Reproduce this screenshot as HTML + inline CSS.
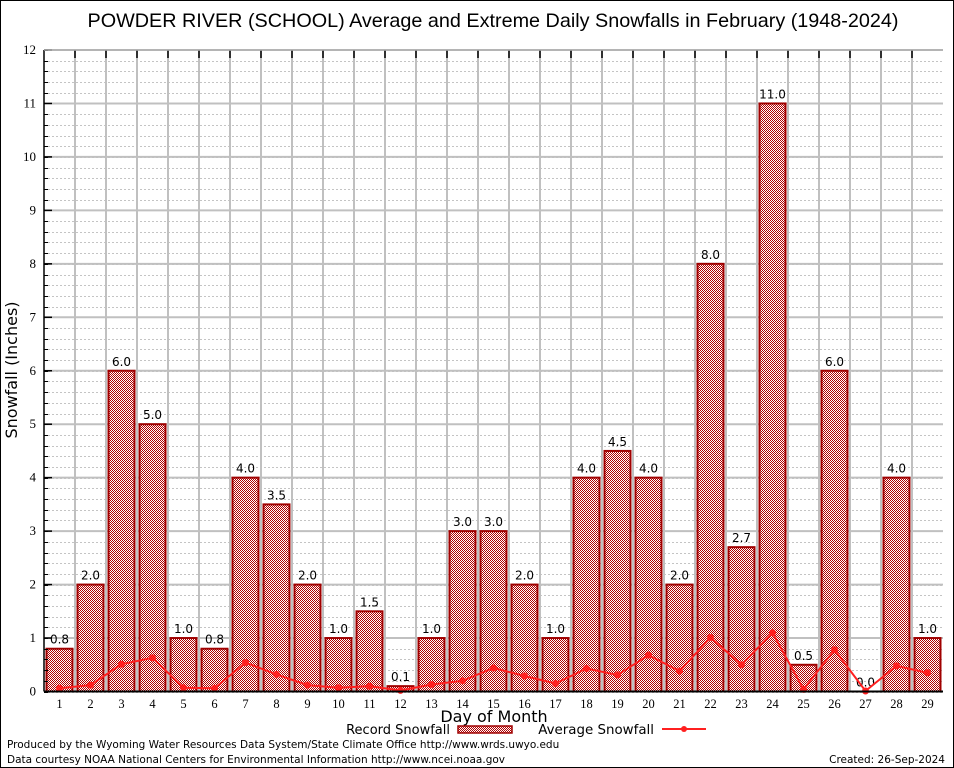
<!DOCTYPE html>
<html><head><meta charset="utf-8">
<style>
html,body{margin:0;padding:0;background:#fff;}
svg{display:block;font-family:"DejaVu Sans","Liberation Sans",sans-serif;}
</style></head>
<body>
<svg id="chart" width="954" height="768" viewBox="0 0 954 768" xmlns="http://www.w3.org/2000/svg">
<defs>
<pattern id="chk" width="2" height="2" patternUnits="userSpaceOnUse">
<rect width="2" height="2" fill="#fff"/>
<rect width="1" height="1" fill="#b00000"/>
<rect x="1" y="1" width="1" height="1" fill="#b00000"/>
</pattern>
</defs>
<rect x="0.5" y="0.5" width="953" height="767" fill="#fff" stroke="#000"/>
<text x="493" y="27" font-size="19.8" text-anchor="middle" font-family="Liberation Sans, sans-serif">POWDER RIVER (SCHOOL) Average and Extreme Daily Snowfalls in February (1948-2024)</text>
<g id="grid"></g>
<g id="bars"></g>
<g id="line"></g>
<g id="axes"></g>
<text x="17" y="370" font-size="16" text-anchor="middle" transform="rotate(-90 17 370)">Snowfall (Inches)</text>
<text x="494" y="722" font-size="16" text-anchor="middle">Day of Month</text>
<g>
<text x="450" y="734" font-size="13" text-anchor="end">Record Snowfall</text>
<rect x="458" y="726" width="54" height="7" fill="url(#chk)" stroke="#a00000" stroke-width="1.5"/>
<text x="654" y="734" font-size="13.4" text-anchor="end">Average Snowfall</text>
<line x1="662" y1="729" x2="706" y2="729" stroke="#ff2020" stroke-width="2"/>
<circle cx="684" cy="729" r="3" fill="#ff2020"/>
</g>
<text x="7" y="748" font-size="10.5">Produced by the Wyoming Water Resources Data System/State Climate Office http://www.wrds.uwyo.edu</text>
<text x="7" y="763" font-size="10.5">Data courtesy NOAA National Centers for Environmental Information http://www.ncei.noaa.gov</text>
<text x="945" y="763" font-size="10.5" text-anchor="end">Created: 26-Sep-2024</text>
</svg>
<script>
const days = [1,2,3,4,5,6,7,8,9,10,11,12,13,14,15,16,17,18,19,20,21,22,23,24,25,26,27,28,29];
const recordSnow = [0.8,2.0,6.0,5.0,1.0,0.8,4.0,3.5,2.0,1.0,1.5,0.1,1.0,3.0,3.0,2.0,1.0,4.0,4.5,4.0,2.0,8.0,2.7,11.0,0.5,6.0,0.0,4.0,1.0];
const avgSnow = [0.06,0.12,0.51,0.63,0.07,0.06,0.54,0.32,0.12,0.07,0.10,0.02,0.13,0.20,0.44,0.29,0.15,0.43,0.31,0.68,0.38,1.01,0.50,1.10,0.04,0.78,0.01,0.48,0.35];
const yTicks = [0,1,2,3,4,5,6,7,8,9,10,11,12];

const NS="http://www.w3.org/2000/svg";
const L=44,R=943,T=50,B=691.5;
const yMax=12;
const xs=d=>L+(d-0.5)*(R-L)/days.length;
const ys=v=>B-v*(B-T)/yMax;
function mk(tag,parent,attrs){const e=document.createElementNS(NS,tag);for(const k in attrs)e.setAttribute(k,attrs[k]);parent.appendChild(e);return e;}
const grid=document.getElementById('grid'),bars=document.getElementById('bars'),line=document.getElementById('line'),axes=document.getElementById('axes');

for(let v=0;v<yMax;v+=0.2){
  const y=Math.round(ys(v))+0.5;
  const g=mk('line',grid,{x1:L,x2:R,y1:y,y2:y,stroke:'#c4c4c4','stroke-width':1,'stroke-dasharray':'2,2'});
  
  
  const t=mk('line',axes,{x1:L,x2:L+4,y1:y,y2:y,stroke:'#000'});
  
  
}
yTicks.forEach(v=>{
  const y=ys(v);
  const g=mk('line',grid,{x1:L,x2:R,y1:y,y2:y,stroke:'#c0c0c0','stroke-width':2});
  
  
  const t=mk('line',axes,{x1:L,x2:L+8,y1:y,y2:y,stroke:'#000','stroke-width':1.5});
  
  
  const tx=mk('text',axes,{x:36,y:y+4,'font-size':13,'text-anchor':'end','font-family':'Liberation Serif, serif'});
  tx.textContent=v;
  
  
});
for(let i=1;i<days.length;i++){
  const x=Math.round(xs(i+0.5));
  const g=mk('line',grid,{x1:x,x2:x,y1:T,y2:B,stroke:'#c0c0c0','stroke-width':2});
  
  
  const t=mk('line',axes,{x1:x,x2:x,y1:T,y2:T+8,stroke:'#000','stroke-width':1.5});
  
  
}
const bw=26;
days.forEach((d,i)=>{
  const v=recordSnow[i];
  const x=xs(d)-bw/2,y=ys(v);
  const r=mk('rect',bars,{x:x,y:y,width:bw,height:Math.max(B-y,0.01),fill:'url(#chk)',stroke:'#a00000','stroke-width':2});
  
  
  const t=mk('text',bars,{x:xs(d),y:y-5,'font-size':12,'text-anchor':'middle'});
  t.textContent=v.toFixed(1);
  
  
  const xl=mk('text',axes,{x:xs(d),y:708,'font-size':12.5,'text-anchor':'middle','font-family':'Liberation Serif, serif'});
  xl.textContent=d;
  
  
});
const pts=days.map((d,i)=>xs(d)+','+ys(avgSnow[i])).join(' ');
const pl=mk('polyline',line,{points:pts,fill:'none',stroke:'#ff2020','stroke-width':2});


days.forEach((d,i)=>{
  const c=mk('circle',line,{cx:xs(d),cy:ys(avgSnow[i]),r:3.5,fill:'#ff2020'});
  
  
});
const ax=mk('line',axes,{x1:L,x2:R,y1:B,y2:B,stroke:'#000','stroke-width':2});


const ay=mk('line',axes,{x1:L,x2:L,y1:T,y2:B,stroke:'#000','stroke-width':1.5});


const at=mk('line',axes,{x1:L,x2:R,y1:T,y2:T,stroke:'#b0b0b0','stroke-width':1.5});


</script>
</body></html>
